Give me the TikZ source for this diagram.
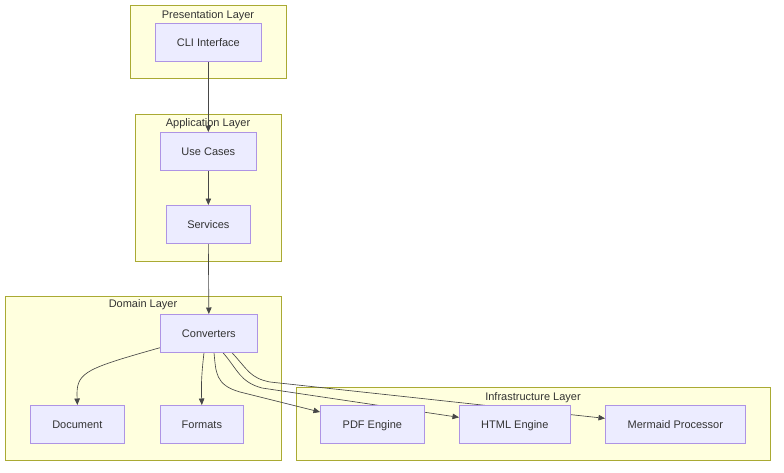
\documentclass[tikz,border=0pt]{standalone}
\usepackage{fontspec}
\setmainfont{Liberation Sans}
\usetikzlibrary{arrows.meta}
\definecolor{clfill}{HTML}{FFFFDE}
\definecolor{cldraw}{HTML}{AAAA33}
\definecolor{ndfill}{HTML}{ECECFF}
\definecolor{nddraw}{HTML}{9370DB}
\definecolor{txt}{HTML}{333333}
\pgfdeclarelayer{bg}
\pgfdeclarelayer{edges}
\pgfsetlayers{bg,edges,main}
\tikzset{
  cluster/.style={fill=clfill, draw=cldraw, line width=0.7pt},
  cltitle/.style={text=txt, font=\fontsize{11}{13}\selectfont, inner sep=0pt},
  box/.style={fill=ndfill, draw=nddraw!75, line width=0.7pt, text=txt,
    font=\fontsize{11}{13}\selectfont, inner sep=0pt, anchor=north west,
    text height=8pt, text depth=0pt},
  arr/.style={draw=txt!90, line width=0.65pt,
    -{Triangle[length=6.5pt,width=5.5pt]}},
}
\begin{document}
\begin{tikzpicture}[x=1pt,y=-1pt]
\useasboundingbox (0,0) rectangle (784,472);

% page and layer frames
\begin{pgfonlayer}{bg}
  \fill[white] (0,0) rectangle (784,472);
  \draw[cluster] (130,5) rectangle (286,78);
  \draw[cluster] (135,114) rectangle (281,261);
  \draw[cluster] (5,296) rectangle (281,460);
  \draw[cluster] (296,387) rectangle (770,460);
\end{pgfonlayer}
\node[cltitle] (tpres) at (208,15.5) {Presentation Layer};
\node[cltitle] (tapp) at (208,123.5) {Application Layer};
\node[cltitle] (tdom) at (143,304.5) {Domain Layer};
\node[cltitle] (tinf) at (533,397.5) {Infrastructure Layer};

% components
\node[box, minimum width=106pt, minimum height=38pt] (cli) at (155,23) {CLI Interface};
\node[box, minimum width=96pt, minimum height=38pt] (uc) at (160,132) {Use Cases};
\node[box, minimum width=84pt, minimum height=38pt] (svc) at (166,205) {Services};
\node[box, minimum width=97pt, minimum height=38pt] (conv) at (160,314) {Converters};
\node[box, minimum width=94pt, minimum height=38pt] (doc) at (30,405) {Document};
\node[box, minimum width=83pt, minimum height=38pt] (fmt) at (160,405) {Formats};
\node[box, minimum width=104pt, minimum height=38pt] (pdf) at (320,405) {PDF Engine};
\node[box, minimum width=111pt, minimum height=38pt] (html) at (459,405) {HTML Engine};
\node[box, minimum width=140pt, minimum height=38pt] (merm) at (605,405) {Mermaid Processor};

% dependencies
\begin{pgfonlayer}{edges}
  \draw[arr] (cli.south) -- (uc.north);
  \draw[arr] (uc.south) -- (svc.north);
  \draw[arr] (svc.south) -- (conv.north);
  \draw[arr] ([yshift=5pt]conv.south west)
    .. controls (88,368) and (77,372) .. (77,394) -- (doc.north);
  \draw[arr] ([xshift=44pt]conv.south west)
    .. controls (202,370) and (201,382) .. (fmt.north);
  \draw[arr] ([xshift=54pt]conv.south west)
    .. controls (216,372) and (215,385) .. (240,392)
    -- ([yshift=-7pt]pdf.north west);
  \draw[arr] ([xshift=63pt]conv.south west)
    .. controls (238,370) and (240,382) .. (262,388)
    -- ([yshift=7pt]html.west);
  \draw[arr] ([xshift=72pt]conv.south west)
    .. controls (248,370) and (250,378) .. (270,382)
    -- ([yshift=6pt]merm.west);
\end{pgfonlayer}
\end{tikzpicture}
\end{document}
